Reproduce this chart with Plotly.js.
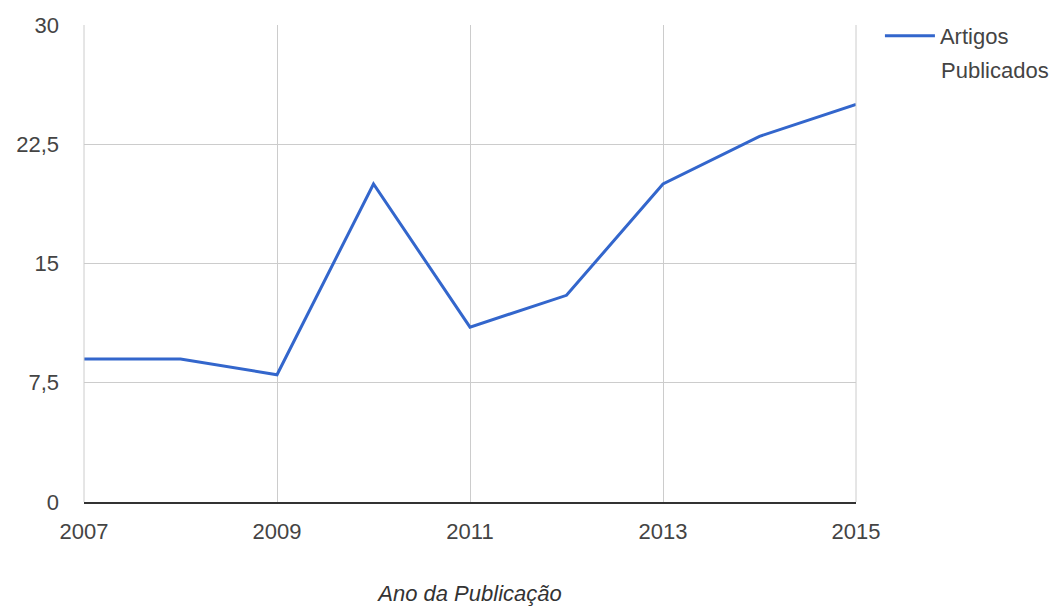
<!DOCTYPE html>
<html>
<head>
<meta charset="utf-8">
<script src="https://cdn.plot.ly/plotly-3.0.1.min.js"></script>
<style>html,body{margin:0;padding:0;background:#fff;}#chart{width:1064px;height:609px;}</style>
</head>
<body>
<div id="chart"></div>
<script>
const years = [2007, 2008, 2009, 2010, 2011, 2012, 2013, 2014, 2015];
const artigos = [9, 9, 8, 20, 11, 13, 20, 23, 25];
const seriesName = 'Artigos';
const seriesName2 = 'Publicados';
const yTicks = [0, 7.5, 15, 22.5, 30];
const xTicks = [2007, 2009, 2011, 2013, 2015];
const xTitle = 'Ano da Publicação';

const fam = 'Liberation Sans, Arial, sans-serif';

Plotly.newPlot('chart', [{
  x: years, y: artigos, type: 'scatter', mode: 'lines', name: seriesName,
  line: {color: '#3366cc', width: 3}
}], {
  width: 1064, height: 609,
  margin: {l: 84, r: 208, t: 25, b: 107},
  separators: ',.',
  paper_bgcolor: '#fff', plot_bgcolor: '#fff',
  font: {family: fam, size: 22, color: '#444'},
  showlegend: true,
  legend: {x: 1.031, y: 1.021, xanchor: 'left', yanchor: 'top', itemwidth: 50,
           font: {family: fam, size: 22, color: '#444'}, bgcolor: 'rgba(0,0,0,0)'},
  annotations: [
    {xref: 'paper', yref: 'paper', x: 1.0, y: 1.0, xanchor: 'left', yanchor: 'middle',
     xshift: 83, yshift: -45, text: seriesName2, showarrow: false,
     font: {family: fam, size: 22, color: '#444'}}
  ],
  xaxis: {
    range: [2007, 2015], tickvals: xTicks, ticktext: xTicks.map(String),
    showgrid: true, gridcolor: '#cccccc', gridwidth: 1,
    showline: true, linecolor: '#333', linewidth: 1.5, zeroline: false,
    ticks: '', ticklabelstandoff: 9, tickfont: {size: 22, color: '#444'},
    automargin: false,
    title: {text: xTitle, font: {size: 22, color: '#333', style: 'italic'}, standoff: 42}
  },
  yaxis: {
    range: [0, 30], tickvals: yTicks,
    showgrid: true, gridcolor: '#cccccc', gridwidth: 1, automargin: false,
    showline: false, zeroline: false, ticks: '', ticklabelstandoff: 24,
    tickfont: {size: 22, color: '#444'}
  },
  shapes: [
    {type: 'line', xref: 'paper', yref: 'paper', x0: 0, x1: 0, y0: 0, y1: 1, line: {color: '#cccccc', width: 1}},
    {type: 'line', xref: 'paper', yref: 'paper', x0: 1, x1: 1, y0: 0, y1: 1, line: {color: '#cccccc', width: 1}}
  ]
}, {displayModeBar: false, staticPlot: true});
</script>
</body>
</html>
